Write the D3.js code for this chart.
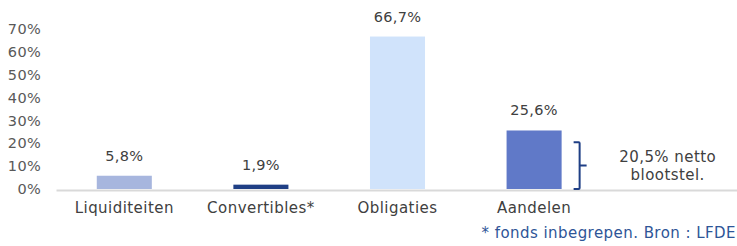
<!DOCTYPE html>
<html>
<head>
<meta charset="utf-8">
<script src="https://cdn.jsdelivr.net/npm/d3@7"></script>
<style>
  body { margin: 0; background: #fff; }
  svg { display: block; font-family: "DejaVu Sans", sans-serif; }
</style>
</head>
<body>
<svg></svg>
<script>
let categories = ["Liquiditeiten", "Convertibles*", "Obligaties", "Aandelen", ""];
let values = [5.8, 1.9, 66.7, 25.6];
let labels = ["5,8%", "1,9%", "66,7%", "25,6%"];
let colors = ["#a7b6de", "#1f3f85", "#d0e3fb", "#6079c8"];
let yTicks = [0, 10, 20, 30, 40, 50, 60, 70];
let netExposure = 20.5;
let netLabel = ["20,5% netto", "blootstel."];
let footnote = "* fonds inbegrepen. Bron : LFDE";

let width = 737;
let height = 246;
let fontSize = 15;
let spacing = 0.45;

let svg = d3.select("svg").attr("width", width).attr("height", height);

let xScale = d3.scaleBand().domain(categories).range([56, 739]).paddingInner(0.597).paddingOuter(0.2985);
let yScale = d3.scaleLinear().domain([0, 70]).range([189, 29]);

// y axis labels only
let yAxis = d3.axisLeft(yScale).tickValues(yTicks).tickFormat((d) => d + "%").tickSize(0).tickPadding(0);
let gy = svg.append("g").attr("transform", "translate(41,0)").call(yAxis);
gy.select(".domain").remove();
gy.selectAll("text")
  .attr("font-family", "DejaVu Sans")
  .attr("font-size", 14.5)
  .attr("letter-spacing", 0.3)
  .attr("fill", "#595959");

// bars
svg.selectAll("rect.bar")
  .data(values)
  .enter()
  .append("rect")
  .attr("class", "bar")
  .attr("x", (d, i) => xScale(categories[i]))
  .attr("y", (d) => yScale(d))
  .attr("width", xScale.bandwidth())
  .attr("height", (d) => yScale(0) - yScale(d))
  .attr("fill", (d, i) => colors[i]);

// value labels
svg.selectAll("text.val")
  .data(values)
  .enter()
  .append("text")
  .attr("class", "val")
  .attr("x", (d, i) => xScale(categories[i]) + xScale.bandwidth() / 2)
  .attr("y", (d) => yScale(d) - 15)
  .attr("text-anchor", "middle")
  .attr("font-size", 14.5)
  .attr("letter-spacing", 0.3)
  .attr("fill", "#404040")
  .text((d, i) => labels[i]);

// x axis
let xAxis = d3.axisBottom(xScale).tickSize(0).tickPadding(13);
let gx = svg.append("g").attr("transform", "translate(0," + yScale(0) + ")").call(xAxis);
gx.select(".domain").attr("stroke", "#d9d9d9").attr("stroke-width", 2).attr("transform", "translate(0,1)");
gx.selectAll("text")
  .attr("font-family", "DejaVu Sans")
  .attr("font-size", fontSize)
  .attr("letter-spacing", spacing)
  .attr("fill", "#404040");

// bracket for net exposure
let bx = xScale("Aandelen") + xScale.bandwidth() + 12;
let yTop = yScale(netExposure);
let yBot = yScale(0);
let yMid = (yTop + yBot) / 2;
svg.append("path")
  .attr("d",
    "M" + bx + "," + yTop +
    " L" + (bx + 5) + "," + yTop +
    " Q" + (bx + 6) + "," + yTop + " " + (bx + 6) + "," + (yTop + 1) +
    " L" + (bx + 6) + "," + (yBot - 1) +
    " Q" + (bx + 6) + "," + yBot + " " + (bx + 5) + "," + yBot +
    " L" + bx + "," + yBot +
    " M" + (bx + 6) + "," + yMid + " L" + (bx + 13) + "," + yMid)
  .attr("fill", "none")
  .attr("stroke", "#1f3f85")
  .attr("stroke-width", 2);

let netX = xScale("") + xScale.bandwidth() / 2 - 3;
svg.append("text")
  .attr("x", netX)
  .attr("text-anchor", "middle")
  .attr("font-size", fontSize)
  .attr("letter-spacing", spacing)
  .attr("fill", "#404040")
  .selectAll("tspan")
  .data(netLabel)
  .enter()
  .append("tspan")
  .attr("x", netX)
  .attr("y", (d, i) => 162 + i * 18)
  .text((d) => d);

// footnote
svg.append("text")
  .attr("x", 736)
  .attr("y", 238)
  .attr("text-anchor", "end")
  .attr("font-size", fontSize)
  .attr("letter-spacing", spacing)
  .attr("fill", "#2e5597")
  .text(footnote);
</script>
</body>
</html>
